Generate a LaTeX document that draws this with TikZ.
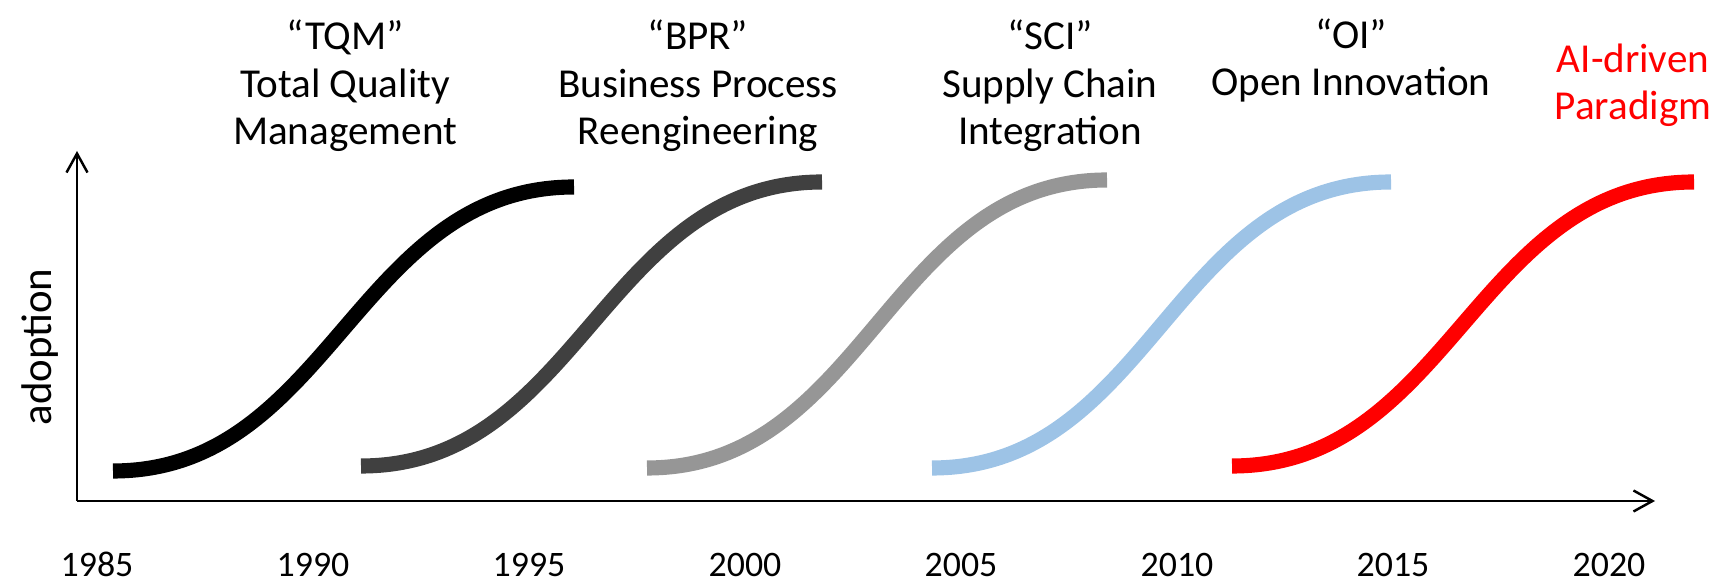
\documentclass[tikz,border=0pt]{standalone}
\usepackage{fontspec}
\setmainfont{Carlito}
\usetikzlibrary{arrows.meta,positioning}
\definecolor{darkcurve}{RGB}{64,64,64}
\definecolor{greycurve}{RGB}{150,150,150}
\definecolor{bluecurve}{RGB}{157,195,230}

\begin{document}
\begin{tikzpicture}[node distance=2.16cm,
    axis/.style={line width=0.7pt, -{Straight Barb[length=1.9mm,width=2.1mm]}},
    scurve/.style={line width=4.3pt},
    paradigm/.style={align=center, anchor=base, inner sep=0pt, font=\fontsize{11.7}{13.65}\selectfont},
    year/.style={inner sep=0pt, font=\fontsize{10.2}{12}\selectfont}]
    \useasboundingbox (0,0) rectangle (17.27,5.81);

    % axes
    \coordinate (origin) at (0.77,0.80);
    \coordinate (ytop) at (0.77,4.30);
    \coordinate (xend) at (16.55,0.80);
    \draw [axis] (origin) -- (ytop);
    \draw [axis] (origin) -- (xend);
    \node (adoption) [rotate=90, anchor=base, inner sep=0pt, font=\fontsize{12.2}{14}\selectfont] at (0.51,2.34) {adoption};

    % years
    \node (y1985) [year] at (0.97,0.165) {1985};
    \node (y1990) [year, right of=y1985] {1990};
    \node (y1995) [year, right of=y1990] {1995};
    \node (y2000) [year, right of=y1995] {2000};
    \node (y2005) [year, right of=y2000] {2005};
    \node (y2010) [year, right of=y2005] {2010};
    \node (y2015) [year, right of=y2010] {2015};
    \node (y2020) [year, right of=y2015] {2020};

    % adoption curves
    \draw [scurve, black] (1.13,1.10) .. controls +(2.17,0) and +(-2.17,0) .. (5.74,3.94);
    \draw [scurve, darkcurve] (3.61,1.15) .. controls +(2.17,0) and +(-2.17,0) .. (8.22,3.99);
    \draw [scurve, greycurve] (6.47,1.13) .. controls +(2.17,0) and +(-2.17,0) .. (11.07,4.01);
    \draw [scurve, bluecurve] (9.32,1.13) .. controls +(2.17,0) and +(-2.17,0) .. (13.91,3.99);
    \draw [scurve, red] (12.32,1.15) .. controls +(2.17,0) and +(-2.17,0) .. (16.94,3.99);

    % paradigm labels (anchored at the last line)
    \node (tqm) [paradigm] at (3.45,4.36) {“TQM”\\Total Quality\\Management};
    \node (bpr) [paradigm] at (6.98,4.36) {“BPR”\\Business Process\\Reengineering};
    \node (sci) [paradigm] at (10.50,4.36) {“SCI”\\Supply Chain\\Integration};
    \node (oi) [paradigm] at (13.51,4.85) {“OI”\\Open Innovation};
    \node (ai) [paradigm, red] at (16.33,4.61) {AI-driven\\Paradigm};
\end{tikzpicture}
\end{document}
